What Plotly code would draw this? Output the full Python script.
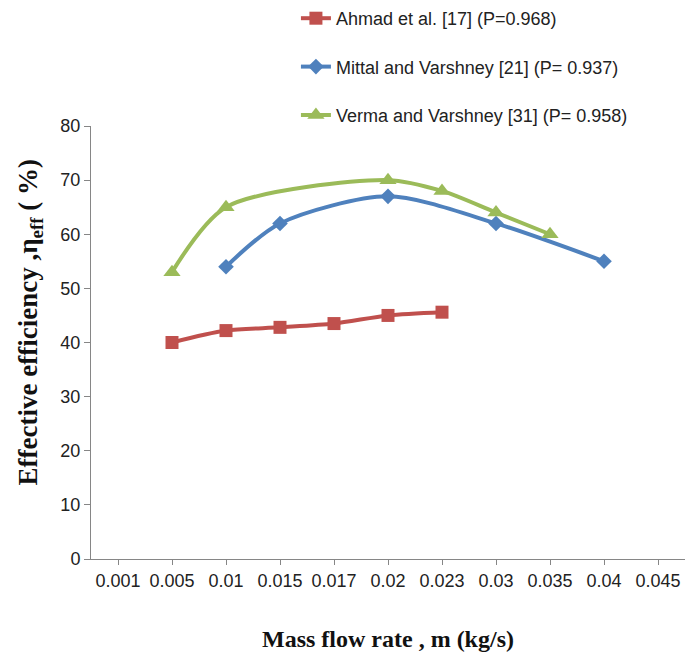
import plotly.graph_objects as go

categories = ["0.001", "0.005", "0.01", "0.015", "0.017", "0.02", "0.023", "0.03", "0.035", "0.04", "0.045"]

ahmad = [None, 40.0, 42.2, 42.8, 43.5, 45.0, 45.6, None, None, None, None]
mittal = [None, None, 54.0, 62.0, None, 67.0, None, 62.0, None, 55.0, None]
verma = [None, 53.0, 65.0, None, None, 70.0, 68.0, 64.0, 60.0, None, None]

names = ["Ahmad et al. [17] (P=0.968)", "Mittal and Varshney [21] (P= 0.937)", "Verma and Varshney [31] (P= 0.958)"]
colors = ["#C0504D", "#4F81BD", "#9BBB59"]
symbols = ["square", "diamond", "triangle-up"]
sizes = [13, 12, 15]

fig = go.Figure()
for i, vals in enumerate([ahmad, mittal, verma]):
    xs = [c for c, v in zip(categories, vals) if v is not None]
    ys = [v for v in vals if v is not None]
    fig.add_trace(go.Scatter(
        x=xs, y=ys, name=names[i], mode="lines+markers",
        line=dict(color=colors[i], width=4, shape="spline", smoothing=0.8),
        marker=dict(color=colors[i], symbol=symbols[i], size=sizes[i]),
        legendgroup=str(i),
    ))

axis_font = dict(family="Liberation Sans, Arial", size=18, color="#222222")
fig.update_layout(
    width=686, height=657,
    margin=dict(l=91, r=1, t=125, b=98),
    paper_bgcolor="white", plot_bgcolor="white",
    showlegend=True,
    legend=dict(x=0.345, y=1.29, xanchor="left", yanchor="top",
                font=dict(family="Liberation Sans, Arial", size=18, color="#222222"),
                tracegroupgap=22, bgcolor="rgba(0,0,0,0)"),
    xaxis=dict(type="category", categoryorder="array", categoryarray=categories,
               range=[-0.5, 10.5], showgrid=False, showline=True, linecolor="#868686", linewidth=1,
               ticks="outside", ticklen=5, tickcolor="#868686", tickfont=axis_font,
               title=dict(text="<b>Mass flow rate , m (kg/s)</b>",
                          font=dict(family="Liberation Serif, Times New Roman", size=24, color="#111111"),
                          standoff=40)),
    yaxis=dict(range=[0, 80], dtick=10, showgrid=False, showline=True, linecolor="#868686", linewidth=1,
               ticks="outside", ticklen=6, tickcolor="#868686", tickfont=axis_font, zeroline=False),
)
fig.add_annotation(
    text="<b>Effective efficiency ,η<sub>eff</sub> ( %)</b>",
    xref="paper", yref="paper", x=-0.103, y=0.546, xanchor="center", yanchor="middle",
    textangle=-90, showarrow=False,
    font=dict(family="Liberation Serif, Times New Roman", size=27, color="#111111"),
)

fig.write_html("out.html")
